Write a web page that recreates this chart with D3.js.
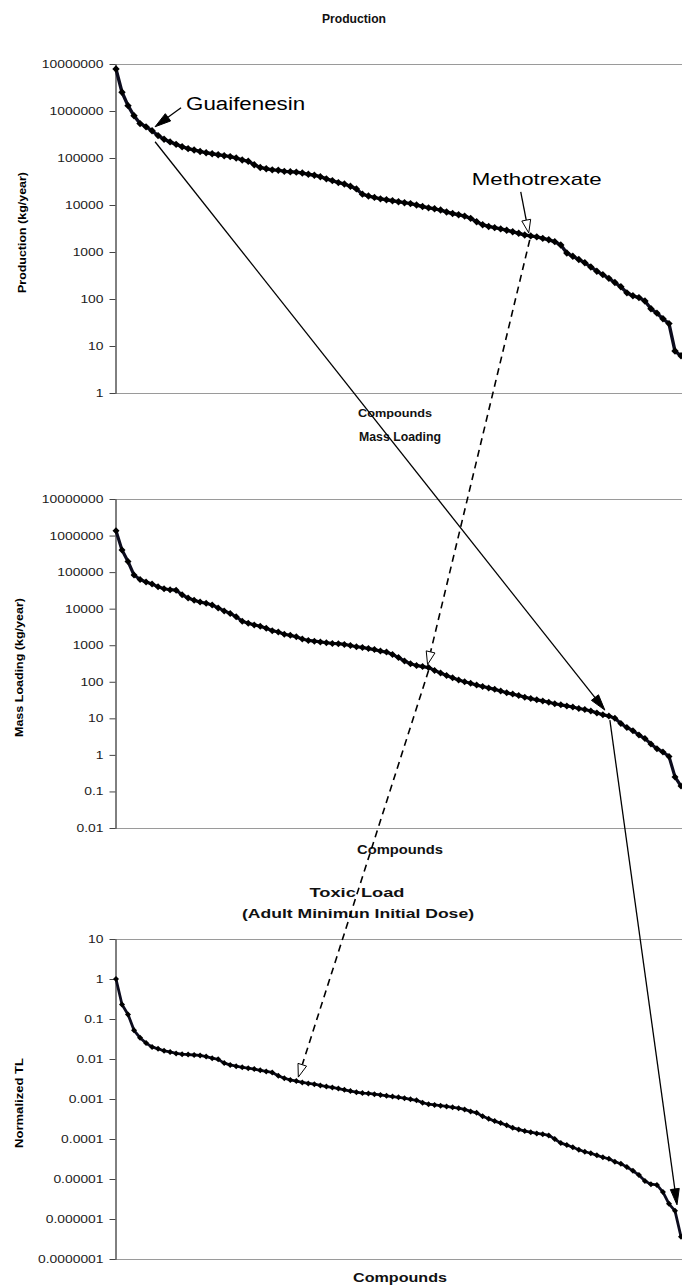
<!DOCTYPE html>
<html>
<head>
<meta charset="utf-8">
<script src="https://cdn.jsdelivr.net/npm/d3@7"></script>
<style>
  body { margin: 0; background: #fff; }
  svg { display: block; font-family: "Liberation Sans", Arial, sans-serif; }
</style>
</head>
<body>
<div id="chart"></div>
<script>
// Data (compounds ranked)
const production = [
  7800000, 2500000, 1300000, 790000, 540000, 460000, 380000, 300000, 250000, 220000,
  195000, 174000, 158000, 148000, 138000, 129000, 123000, 117000, 112000, 107000,
  100000, 91000, 85000, 72000, 63000, 59000, 56000, 55000, 52000, 51000,
  50000, 48000, 45000, 43000, 40000, 36000, 33000, 30000, 28000, 25000,
  22000, 17000, 15500, 14500, 13500, 12900, 12300, 11700, 11200, 10700,
  10000, 9300, 8700, 8300, 7800, 7100, 6600, 6200, 5800, 5200,
  4400, 3800, 3500, 3300, 3100, 2900, 2700, 2500, 2300, 2200,
  2100, 1950, 1820, 1660, 1410, 950, 810, 690, 590, 480,
  390, 330, 275, 224, 182, 135, 117, 107, 91, 62,
  50, 38, 30, 7.8, 6.2
]
const massLoading = [
  1350000, 400000, 195000, 83000, 63000, 54000, 47000, 40000, 35000, 33000,
  32000, 24000, 19500, 17000, 15100, 14100, 12600, 10500, 8700, 7400,
  6000, 4500, 4000, 3600, 3300, 2900, 2500, 2300, 2000, 1860,
  1700, 1480, 1350, 1290, 1230, 1170, 1120, 1100, 1050, 980,
  910, 870, 810, 760, 690, 650, 560, 460, 370, 310,
  280, 260, 245, 205, 174, 148, 129, 112, 100, 91,
  81, 74, 68, 62, 56, 50, 46, 42, 38, 35,
  32, 30, 27.5, 25, 23.4, 21.9, 20.4, 18.6, 17.4, 15.8,
  14.1, 12.6, 11.5, 10, 7.2, 5.6, 4.6, 3.5, 2.8, 2.0,
  1.48, 1.2, 0.91, 0.25, 0.14
]
const toxicLoad = [
  1, 0.23, 0.13, 0.052, 0.034, 0.025, 0.020, 0.018, 0.016, 0.015,
  0.0138, 0.0132, 0.0129, 0.0126, 0.0123, 0.0115, 0.0105, 0.0098, 0.0079, 0.0071,
  0.0066, 0.0062, 0.0059, 0.0056, 0.0052, 0.0049, 0.0046, 0.0038, 0.0033, 0.0030,
  0.0028, 0.0026, 0.00245, 0.00234, 0.00219, 0.00204, 0.00195, 0.00182, 0.0017, 0.00158,
  0.00148, 0.00141, 0.00138, 0.00132, 0.00126, 0.0012, 0.00115, 0.0011, 0.00105, 0.00098,
  0.00093, 0.00081, 0.00074, 0.00071, 0.00068, 0.00065, 0.00062, 0.00059, 0.00055, 0.00049,
  0.00045, 0.00037, 0.00032, 0.00028, 0.00025, 0.00022, 0.00019, 0.000174, 0.000158, 0.000148,
  0.000138, 0.000132, 0.000123, 0.0001, 0.000079, 0.000071, 0.000062, 0.000054, 0.000048, 0.000044,
  0.000039, 0.000035, 0.000032, 0.000027, 0.000024, 0.00002, 0.000016, 0.0000126, 0.0000089, 0.0000074,
  0.0000071, 0.0000047, 0.0000024, 0.0000016, 0.00000036
]

// tick values and labels
const productionTicks = [1, 10, 100, 1000, 10000, 100000, 1000000, 10000000]
const productionTickLabels = ['1', '10', '100', '1000', '10000', '100000', '1000000', '10000000']
const massTicks = [0.01, 0.1, 1, 10, 100, 1000, 10000, 100000, 1000000, 10000000]
const massTickLabels = ['0.01', '0.1', '1', '10', '100', '1000', '10000', '100000', '1000000', '10000000']
const toxTicks = [1e-7, 1e-6, 1e-5, 1e-4, 1e-3, 0.01, 0.1, 1, 10]
const toxTickLabels = ['0.0000001', '0.000001', '0.00001', '0.0001', '0.001', '0.01', '0.1', '1', '10']

// highlighted compounds (index in ranking of each panel)
const guaifenesinIdx = [6, 82, 93]
const methotrexateIdx = [69, 52, 30]

function draw() {
  const width = 682, height = 1286
  const xLeft = 116, xRight = 681

  const svg = d3.select('#chart')
    .append('svg')
    .attr('width', width)
    .attr('height', height)

  // stretch text horizontally like the scanned original
  function stretch(sel, k) {
    sel.each(function() {
      const w = this.getComputedTextLength()
      this.setAttribute('textLength', w * k)
      this.setAttribute('lengthAdjust', 'spacingAndGlyphs')
    })
  }
  function fit(sel, w) {
    sel.attr('textLength', w).attr('lengthAdjust', 'spacingAndGlyphs')
  }

  const panels = [
    { values: production, ticks: productionTicks, labels: productionTickLabels,
      top: 64, bottom: 393, r: 3.7, sw: 3.4, yTitle: 'Production (kg/year)', yTitleX: 26, yTitleLen: 121 },
    { values: massLoading, ticks: massTicks, labels: massTickLabels,
      top: 499, bottom: 828, r: 3.5, sw: 3.2, yTitle: 'Mass Loading (kg/year)', yTitleX: 23, yTitleLen: 139 },
    { values: toxicLoad, ticks: toxTicks, labels: toxTickLabels,
      top: 939, bottom: 1259, r: 3.0, sw: 2.8, yTitle: 'Normalized TL', yTitleX: 23, yTitleLen: 90 }
  ]

  const xScale = d3.scaleLinear()
    .domain([0, production.length - 1])
    .range([xLeft, xRight])

  const diamond = {
    draw(ctx, size) {
      const r = Math.sqrt(size / 2)
      ctx.moveTo(0, -r); ctx.lineTo(r, 0); ctx.lineTo(0, r); ctx.lineTo(-r, 0); ctx.closePath()
    }
  }

  panels.forEach(p => {
    p.y = d3.scaleLog()
      .domain([p.ticks[0], p.ticks[p.ticks.length - 1]])
      .range([p.bottom, p.top])

    const g = svg.append('g')

    // top border and category axis line
    g.append('line')
      .attr('x1', xLeft - 1).attr('x2', width)
      .attr('y1', p.top + 0.5).attr('y2', p.top + 0.5)
      .attr('stroke', '#9a9a9a')
    g.append('line')
      .attr('x1', xLeft - 1).attr('x2', width)
      .attr('y1', p.bottom + 0.5).attr('y2', p.bottom + 0.5)
      .attr('stroke', '#9a9a9a')

    const axis = g.append('g')
      .attr('transform', `translate(${xLeft - 0.5},0)`)
      .call(d3.axisLeft(p.y)
        .tickValues(p.ticks)
        .tickFormat((d, i) => p.labels[i])
        .tickSize(6)
        .tickSizeOuter(0)
        .tickPadding(6))
    axis.select('.domain').attr('stroke', '#000')
    axis.selectAll('.tick line').attr('stroke', '#444')
    axis.selectAll('.tick text')
      .attr('font-size', 11)
      .attr('fill', '#1a1a1a')
      .attr('font-family', '"Liberation Sans", Arial, sans-serif')
      .call(stretch, 1.26)

    // y title
    g.append('text')
      .attr('transform', `translate(${p.yTitleX},${(p.top + p.bottom) / 2 + 4}) rotate(-90)`)
      .attr('text-anchor', 'middle')
      .attr('font-size', 11.5)
      .attr('font-weight', 'bold')
      .text(p.yTitle)
      .call(fit, p.yTitleLen)

    // series
    const line = d3.line()
      .x((d, i) => xScale(i))
      .y(d => p.y(d))
    g.append('path')
      .datum(p.values)
      .attr('d', line)
      .attr('fill', 'none')
      .attr('stroke', '#0c0c1e')
      .attr('stroke-width', p.sw)
      .attr('stroke-linejoin', 'round')

    g.selectAll('.pt')
      .data(p.values)
      .join('path')
      .attr('class', 'pt')
      .attr('transform', (d, i) => `translate(${xScale(i)},${p.y(d)})`)
      .attr('d', d3.symbol(diamond, 2 * p.r * p.r))
      .attr('fill', '#000')
  })

  // titles
  const titles = [
    { t: 'Production', x: 354, y: 23, fs: 12, w: 64 },
    { t: 'Compounds', x: 395, y: 417, fs: 11, w: 74 },
    { t: 'Mass Loading', x: 400, y: 441, fs: 12, w: 82 },
    { t: 'Compounds', x: 400, y: 854, fs: 12, w: 86 },
    { t: 'Toxic Load', x: 357, y: 897, fs: 13.5, w: 95 },
    { t: '(Adult Minimun Initial Dose)', x: 358, y: 918, fs: 13.5, w: 232 },
    { t: 'Compounds', x: 400, y: 1282, fs: 13.5, w: 94 }
  ]
  titles.forEach(d => {
    svg.append('text')
      .attr('x', d.x).attr('y', d.y)
      .attr('text-anchor', 'middle')
      .attr('font-size', d.fs)
      .attr('font-weight', 'bold')
      .attr('fill', '#111')
      .text(d.t)
      .call(fit, d.w)
  })

  // arrows between panels
  const ann = svg.append('g')
  function arrow(x1, y1, x2, y2, open, dashed) {
    const a = Math.atan2(y2 - y1, x2 - x1)
    const len = open ? 13 : 16, half = 4.5
    const bx = x2 - len * Math.cos(a), by = y2 - len * Math.sin(a)
    ann.append('line')
      .attr('x1', x1).attr('y1', y1)
      .attr('x2', open ? bx : bx + 3 * Math.cos(a)).attr('y2', open ? by : by + 3 * Math.sin(a))
      .attr('stroke', '#000')
      .attr('stroke-width', dashed ? 1.6 : 1.3)
      .attr('stroke-dasharray', dashed ? '7,5' : null)
    ann.append('path')
      .attr('d', `M${x2},${y2}L${bx + half * Math.sin(a)},${by - half * Math.cos(a)}L${bx - half * Math.sin(a)},${by + half * Math.cos(a)}Z`)
      .attr('fill', open ? '#fff' : '#000')
      .attr('stroke', '#000')
      .attr('stroke-width', 1)
  }
  const pt = (k, i) => [xScale(i), panels[k].y(panels[k].values[i])]

  const g0 = pt(0, guaifenesinIdx[0]), g1 = pt(1, guaifenesinIdx[1]), g2 = pt(2, guaifenesinIdx[2])
  arrow(g0[0] + 3, g0[1] + 11, g1[0] - 4, g1[1] - 6, false, false)
  arrow(g1[0] + 1, g1[1] + 4, g2[0] + 2, g2[1] - 6, false, false)

  const m0 = pt(0, methotrexateIdx[0]), m1 = pt(1, methotrexateIdx[1]), m2 = pt(2, methotrexateIdx[2])
  arrow(m0[0] - 1, m0[1] + 4, m1[0] - 1, m1[1] - 3, true, true)
  arrow(m1[0], m1[1] + 3, m2[0] + 2, m2[1] - 4, true, true)

  // labels with leaders
  arrow(g0[0] + 29, g0[1] - 23, g0[0] + 3, g0[1] - 4, false, false)
  ann.append('text')
    .attr('x', g0[0] + 34).attr('y', g0[1] - 21)
    .attr('font-size', 18)
    .text('Guaifenesin')
    .call(fit, 119)

  arrow(m0[0] - 10, m0[1] - 44, m0[0] - 2, m0[1] - 3, true, false)
  ann.append('text')
    .attr('x', m0[0] + 6).attr('y', m0[1] - 51)
    .attr('text-anchor', 'middle')
    .attr('font-size', 17)
    .text('Methotrexate')
    .call(fit, 130)
}

draw()
</script>
</body>
</html>
